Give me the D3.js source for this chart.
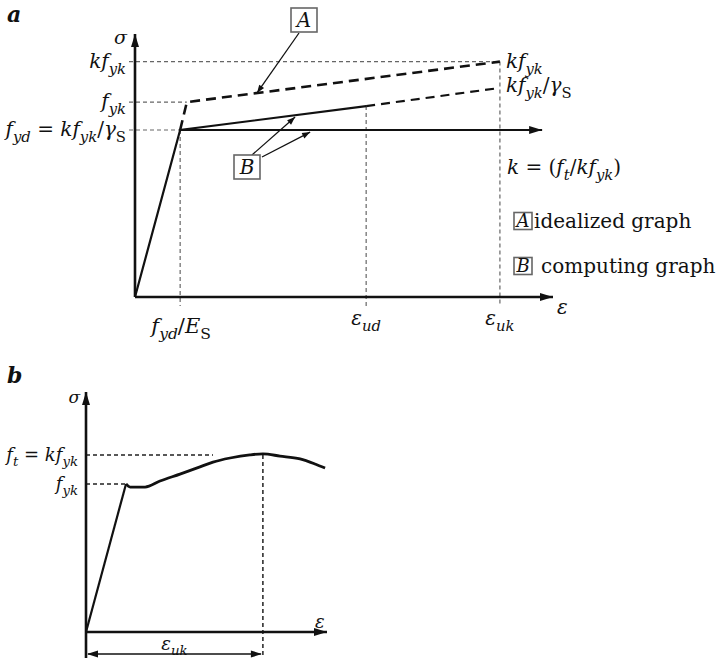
<!DOCTYPE html>
<html>
<head>
<meta charset="utf-8">
<script src="https://cdn.jsdelivr.net/npm/d3@7"></script>
<style>
  body { margin: 0; background: #fff; }
  text { font-family: "DejaVu Serif", serif; fill: #111; }
</style>
</head>
<body>
<div id="chart"></div>
<script>
// ---- panel a (units 0..100 on both axes, not to scale) ----
const epsA = [10.8, 55.3, 87.3];            // fyd/Es, eps_ud, eps_uk
const sigA = [63.5, 74.1, 89.5, 79.5];      // fyd, fyk, kfyk, kfyk/gammaS
const idealA = [[10.8, 63.5], [12.4, 74.1], [87.3, 89.5]];    // A, dashed
const computeSolid = [[0, 0], [10.8, 63.5], [55.3, 72.6]];     // B, solid
const computeDash = [[55.3, 72.6], [87.3, 79.5]];               // B, dashed
const plateau = [[10.8, 63.5], [97.4, 63.5]];
const epsLabelsA = [
  [["f", "i"], ["yd", "si"], ["/", "r"], ["E", "i"], ["S", "sr"]],
  [["ε", "i"], ["ud", "si"]],
  [["ε", "i"], ["uk", "si"]]
];
const sigLabelsA = [
  [["f", "i"], ["yd", "si"], [" = ", "r"], ["kf", "i"], ["yk", "si"], ["/", "r"], ["γ", "i"], ["S", "sr"]],
  [["f", "i"], ["yk", "si"]],
  [["kf", "i"], ["yk", "si"]]
];

// ---- panel b ----
const curveB = [[0, 0], [16.6, 61.7], [18.3, 60.4], [24.5, 60.4], [30.7, 62.9], [39.0, 65.8],
  [47.3, 68.8], [52.7, 70.8], [59.8, 72.5], [68.0, 73.8], [73.4, 74.2], [80.5, 73.3],
  [88.8, 72.1], [95.0, 70.0], [99.2, 68.3]];
const sigB = [73.8, 61.7];   // ft = kfyk, fyk
const epsUkB = 73.4;

const W = 718, H = 662;
const svg = d3.select('#chart').append('svg').attr('width', W).attr('height', H);

function mtext(g, x, y, parts, size, anchor) {
  const t = g.append('text').attr('x', x).attr('y', y)
    .attr('font-size', size).attr('text-anchor', anchor || 'start');
  let shift = 0;
  parts.forEach(([s, k]) => {
    const sub = k[0] === 's';
    const target = sub ? size * 0.3 : 0;
    const ts = t.append('tspan').text(s)
      .attr('font-style', k.endsWith('i') ? 'italic' : 'normal')
      .attr('font-size', sub ? size * 0.74 : size);
    if (target !== shift) { ts.attr('dy', target - shift); shift = target; }
  });
  return t;
}

function head(g, x1, y1, x2, y2, len, wid) {
  const a = Math.atan2(y2 - y1, x2 - x1);
  const bx = x2 - len * Math.cos(a), by = y2 - len * Math.sin(a);
  const nx = -Math.sin(a) * wid / 2, ny = Math.cos(a) * wid / 2;
  g.append('path')
    .attr('d', `M${x2},${y2}L${bx + nx},${by + ny}L${bx - nx},${by - ny}Z`)
    .attr('fill', '#111');
}

function arrowLine(g, x1, y1, x2, y2, sw, len, wid) {
  g.append('line').attr('x1', x1).attr('y1', y1).attr('x2', x2).attr('y2', y2)
    .attr('stroke', '#111').attr('stroke-width', sw);
  head(g, x1, y1, x2, y2, len, wid);
}

function box(g, cx, cy, letter, w, h, size) {
  g.append('rect').attr('x', cx - w / 2).attr('y', cy - h / 2).attr('width', w).attr('height', h)
    .attr('fill', '#fff').attr('stroke', '#666').attr('stroke-width', 1.6);
  g.append('text').attr('x', cx).attr('y', cy + size * 0.36).attr('text-anchor', 'middle')
    .attr('font-size', size).attr('font-style', 'italic').text(letter);
}

// ================= panel a =================
const xa = d3.scaleLinear().domain([0, 100]).range([135, 553]);
const ya = d3.scaleLinear().domain([0, 100]).range([297, 34]);
const ga = svg.append('g');
const line = d3.line().x(d => xa(d[0])).y(d => ya(d[1]));

ga.append('text').attr('x', 7).attr('y', 22).attr('font-size', 22)
  .attr('font-weight', 'bold').attr('font-style', 'italic').text('a');

// thin guide lines
const guide = ga.append('g').attr('stroke', '#666').attr('stroke-width', 1.2)
  .attr('stroke-dasharray', '4,3').attr('fill', 'none');
guide.append('line').attr('x1', xa(0) - 6).attr('x2', xa(epsA[2])).attr('y1', ya(sigA[2])).attr('y2', ya(sigA[2]));
guide.append('line').attr('x1', xa(0) - 6).attr('x2', xa(idealA[1][0])).attr('y1', ya(sigA[1])).attr('y2', ya(sigA[1]));
guide.append('line').attr('x1', xa(0) - 6).attr('x2', xa(epsA[0])).attr('y1', ya(sigA[0])).attr('y2', ya(sigA[0]));
guide.append('line').attr('x1', xa(epsA[0])).attr('x2', xa(epsA[0])).attr('y1', ya(sigA[0])).attr('y2', ya(0) + 9);
guide.append('line').attr('x1', xa(epsA[1])).attr('x2', xa(epsA[1])).attr('y1', ya(computeSolid[2][1])).attr('y2', ya(0) + 9);
guide.append('line').attr('x1', xa(epsA[2])).attr('x2', xa(epsA[2])).attr('y1', ya(sigA[2])).attr('y2', ya(0) + 9);

// axes
arrowLine(ga, xa(0), ya(0), xa(0), ya(100), 2.6, 13, 8);
arrowLine(ga, xa(0), ya(0), xa(100), ya(0), 2.6, 13, 8);
mtext(ga, xa(0) - 8, ya(100) + 10, [["σ", "i"]], 19, 'end');
mtext(ga, xa(100) + 4, ya(0) + 17, [["ε", "i"]], 20, 'start');

// curves
ga.append('path').datum(computeSolid).attr('d', line).attr('fill', 'none')
  .attr('stroke', '#111').attr('stroke-width', 2.2);
ga.append('path').datum(computeDash).attr('d', line).attr('fill', 'none')
  .attr('stroke', '#111').attr('stroke-width', 2.2).attr('stroke-dasharray', '9,6');
ga.append('path').datum(idealA).attr('d', line).attr('fill', 'none')
  .attr('stroke', '#111').attr('stroke-width', 2.6).attr('stroke-dasharray', '10,6');
arrowLine(ga, xa(plateau[0][0]), ya(plateau[0][1]), xa(plateau[1][0]), ya(plateau[1][1]), 2, 13, 8);

// axis labels
sigLabelsA.forEach((p, i) => mtext(ga, xa(0) - 9, ya(sigA[i]) + 6, p, 20, 'end'));
mtext(ga, xa(epsA[0]) + 1, ya(0) + 36, epsLabelsA[0], 21, 'middle');
mtext(ga, xa(epsA[1]), ya(0) + 28, epsLabelsA[1], 20, 'middle');
mtext(ga, xa(epsA[2]), ya(0) + 28, epsLabelsA[2], 20, 'middle');
mtext(ga, xa(epsA[2]) + 6, ya(sigA[2]) + 6, [["kf", "i"], ["yk", "si"]], 20);
mtext(ga, xa(epsA[2]) + 6, ya(sigA[3]) + 4, [["kf", "i"], ["yk", "si"], ["/", "r"], ["γ", "i"], ["S", "sr"]], 20);
mtext(ga, xa(epsA[2]) + 7, ya(sigA[0]) + 44, [["k", "i"], [" = (", "r"], ["f", "i"], ["t", "si"], ["/", "r"], ["kf", "i"], ["yk", "si"], [")", "r"]], 20);

// callouts
arrowLine(ga, 299, 33, xa(29.2), ya(77.6), 1.3, 8, 6);
box(ga, 304, 20, 'A', 26, 24, 20);
arrowLine(ga, 252, 155, xa(38.3), ya(68.4), 1.3, 8, 6);
arrowLine(ga, 262, 157, xa(41.9), ya(62.7), 1.3, 8, 6);
box(ga, 247, 167, 'B', 26, 24, 20);

// legend
box(ga, 523, 221, 'A', 18, 17, 18);
ga.append('text').attr('x', 534).attr('y', 228).attr('font-size', 20).text('idealized graph');
box(ga, 523, 266, 'B', 18, 17, 18);
ga.append('text').attr('x', 541).attr('y', 273).attr('font-size', 20).text('computing graph');

// ================= panel b =================
const xb = d3.scaleLinear().domain([0, 100]).range([86, 327]);
const yb = d3.scaleLinear().domain([0, 100]).range([632, 392]);
const gb = svg.append('g');
const lineB = d3.line().x(d => xb(d[0])).y(d => yb(d[1])).curve(d3.curveMonotoneX);

gb.append('text').attr('x', 7).attr('y', 383).attr('font-size', 22)
  .attr('font-weight', 'bold').attr('font-style', 'italic').text('b');

const guideB = gb.append('g').attr('stroke', '#222').attr('stroke-width', 1.5)
  .attr('stroke-dasharray', '4,3').attr('fill', 'none');
guideB.append('line').attr('x1', xb(0)).attr('x2', xb(52.7)).attr('y1', yb(sigB[0])).attr('y2', yb(sigB[0]));
guideB.append('line').attr('x1', xb(0)).attr('x2', xb(16.6)).attr('y1', yb(sigB[1])).attr('y2', yb(sigB[1]));
guideB.append('line').attr('x1', xb(epsUkB)).attr('x2', xb(epsUkB)).attr('y1', yb(sigB[0])).attr('y2', yb(0) + 26);

gb.append('line').attr('x1', xb(0)).attr('x2', xb(0)).attr('y1', yb(0)).attr('y2', yb(0) + 26)
  .attr('stroke', '#111').attr('stroke-width', 2.6);
arrowLine(gb, xb(0), yb(0), xb(0), yb(100), 2.6, 13, 8);
arrowLine(gb, xb(0), yb(0), xb(100), yb(0), 2.6, 13, 8);
mtext(gb, xb(0) - 6, yb(100) + 11, [["σ", "i"]], 17, 'end');
mtext(gb, xb(100) - 12, yb(0) - 4, [["ε", "i"]], 18, 'start');

gb.append('path').datum(curveB.slice(0, 2)).attr('d', d3.line().x(d => xb(d[0])).y(d => yb(d[1])))
  .attr('fill', 'none').attr('stroke', '#111').attr('stroke-width', 2.2);
gb.append('path').datum(curveB.slice(1)).attr('d', lineB)
  .attr('fill', 'none').attr('stroke', '#111').attr('stroke-width', 2.8).attr('stroke-linejoin', 'round');

mtext(gb, xb(0) - 8, yb(sigB[0]) + 6, [["f", "i"], ["t", "si"], [" = ", "r"], ["kf", "i"], ["yk", "si"]], 18, 'end');
mtext(gb, xb(0) - 8, yb(sigB[1]) + 6, [["f", "i"], ["yk", "si"]], 18, 'end');

// dimension eps_uk
const dy = yb(0) + 22;
gb.append('line').attr('x1', xb(0) + 2).attr('x2', xb(epsUkB) - 2).attr('y1', dy).attr('y2', dy)
  .attr('stroke', '#111').attr('stroke-width', 1.6);
head(gb, xb(epsUkB) - 20, dy, xb(0) + 1, dy, 11, 7);
head(gb, xb(0) + 20, dy, xb(epsUkB) - 1, dy, 11, 7);
mtext(gb, (xb(0) + xb(epsUkB)) / 2, dy - 4, [["ε", "i"], ["uk", "si"]], 18, 'middle');
</script>
</body>
</html>
